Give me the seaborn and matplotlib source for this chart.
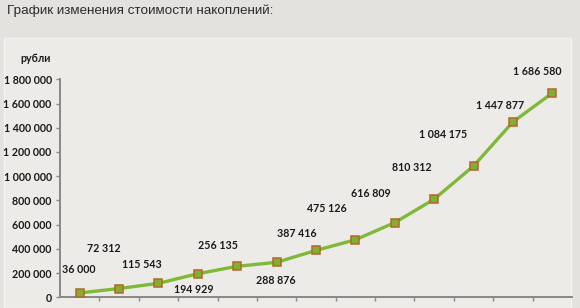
import matplotlib
matplotlib.use("Agg")
import matplotlib.pyplot as plt
from matplotlib.patches import Rectangle
import seaborn as sns
import pandas as pd
import numpy as np

# data
periods = list(range(1, 14))
values = [36000, 72312, 115543, 194929, 256135, 288876, 387416,
          475126, 616809, 810312, 1084175, 1447877, 1686580]
y_ticks = [0, 200000, 400000, 600000, 800000, 1000000, 1200000, 1400000, 1600000, 1800000]
title = "График изменения стоимости накоплений:"
y_unit = "рубли"

# label offsets in pixels (manual placement as in reference)
label_dx = [-0.5, -15, -16.5, -4, -19.5, -1, -19.5, -28.5, -23.5, -22.5, -30, -12.5, -15]
label_dy = [23, 40, 19, -16, 21, -18, 17, 31, 29, 32, 31, 16, 22]

def fmt(v):
    return f"{v:,}".replace(",", " ")

sns.set_theme(style="white")
plt.rcParams["font.family"] = ["Lato", "DejaVu Sans"]

W, H = 580, 308
fig = plt.figure(figsize=(W / 100, H / 100), dpi=100)
fig.patch.set_facecolor("#e4e2df")
fig.patches.append(Rectangle((4 / W, 0), (571 - 4) / W, (H - 38) / H,
                             transform=fig.transFigure, facecolor="#ecebe8",
                             edgecolor="#f4f3f1", linewidth=1.0, zorder=-10))

ax = fig.add_axes([60 / W, (H - 297.3) / H, (572 - 60) / W, (297.3 - 79.3) / H])
ax.set_facecolor("none")
ax.set_zorder(5)

df = pd.DataFrame({"period": periods, "value": values})
sns.lineplot(data=df, x="period", y="value", ax=ax, color="#80b838", linewidth=2.4,
             marker="s", markersize=6.3, markerfacecolor="#7fb030",
             markeredgecolor="#b5652b", markeredgewidth=1.1, zorder=3)

ax.set_xlim(0.5, 13.5)
ax.set_ylim(0, 1800000)
ax.set_xticks(np.arange(1.5, 13.5, 1.0))
ax.set_xticklabels([])
ax.set_yticks(y_ticks)
ax.set_yticklabels([fmt(t) for t in y_ticks], fontweight="bold", fontsize=7.7, color="#1a1a1a")
ax.set_xlabel("")
ax.set_ylabel("")
for s in ["top", "right"]:
    ax.spines[s].set_visible(False)
for s in ["left", "bottom"]:
    ax.spines[s].set_color("#8a8886")
    ax.spines[s].set_linewidth(1.4)
ax.tick_params(axis="both", which="both", length=3, width=1, color="#8a8886",
               direction="out", pad=3, left=True, bottom=True)
ax.grid(False)

for x, v, dx, dy in zip(periods, values, label_dx, label_dy):
    ax.annotate(fmt(v), xy=(x, v), xytext=(dx, dy), textcoords="offset pixels",
                ha="center", va="center", fontsize=7.7, fontweight="bold",
                color="#1a1a1a")

fig.text(7 / W, 1 - 11 / H, title, ha="left", va="center", fontsize=9.7,
         family=["Liberation Sans", "DejaVu Sans"], color="#2b2b2b")
fig.text(35.5 / W, 1 - 58 / H, y_unit, ha="center", va="center", fontsize=7.7,
         fontweight="bold", color="#1a1a1a")

fig.savefig("out.png", dpi=100, facecolor=fig.get_facecolor())
